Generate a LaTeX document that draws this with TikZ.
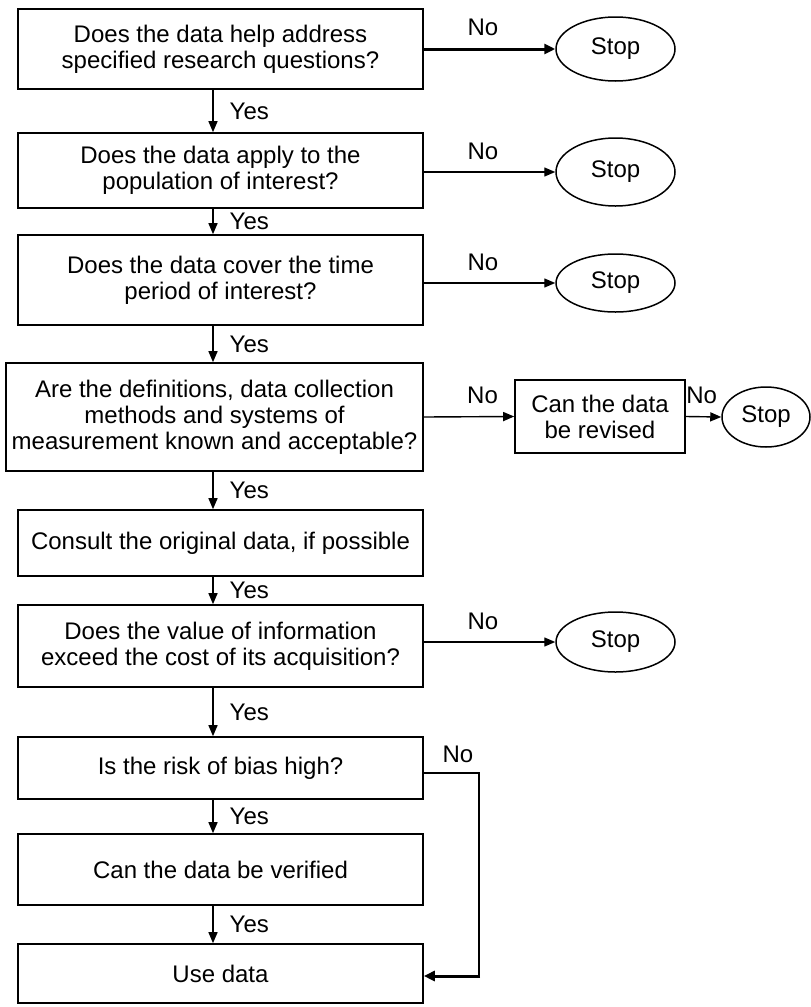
\documentclass[tikz,border=0pt]{standalone}
\usepackage{fontspec}
\setmainfont{Liberation Sans}
\usetikzlibrary{shapes.geometric,arrows.meta}
\begin{document}
\begin{tikzpicture}[x=1pt,y=-1pt,
  every node/.style={font=\fontsize{24}{26}\selectfont},
  box/.style={draw,line width=1.6pt,rectangle,align=center,inner sep=0pt},
  stopnode/.style={draw,line width=1.5pt,ellipse,inner sep=0pt},
  arr/.style={line width=1.4pt,-{Triangle[length=11pt,width=9pt]}},
  thickarr/.style={line width=3pt,-{Triangle[length=11pt,width=10pt]}},
  lbl/.style={inner sep=0pt}
]
\useasboundingbox (0,0) rectangle (811,1007);
% main boxes
\node[box,minimum width=405pt,minimum height=80pt] (b1) at (220.5,49) {Does the data help address\\specified research questions?};
\node[box,minimum width=405pt,minimum height=75pt] (b2) at (220.5,170.5) {Does the data apply to the\\population of interest?};
\node[box,minimum width=405pt,minimum height=90pt] (b3) at (220.5,280) {Does the data cover the time\\period of interest?};
\node[box,minimum width=417pt,minimum height=108pt] (b4) at (214.5,417) {Are the definitions, data collection\\methods and systems of\\measurement known and acceptable?};
\node[box,minimum width=405pt,minimum height=66pt] (b5) at (220.5,543) {Consult the original data, if possible};
\node[box,minimum width=405pt,minimum height=82pt] (b6) at (220.5,646) {Does the value of information\\exceed the cost of its acquisition?};
\node[box,minimum width=405pt,minimum height=62pt] (b7) at (220.5,768) {Is the risk of bias high?};
\node[box,minimum width=405pt,minimum height=71pt] (b8) at (220.5,869.5) {Can the data be verified};
\node[box,minimum width=405pt,minimum height=59pt] (b9) at (220.5,973.5) {Use data};
\node[box,minimum width=170pt,minimum height=73pt] (rv) at (600,416.5) {Can the data\\be revised};
% stops
\node[stopnode,minimum width=119pt,minimum height=64pt] (s1) at (615.5,49) {Stop};
\node[stopnode,minimum width=119pt,minimum height=68pt] (s2) at (615.5,172) {Stop};
\node[stopnode,minimum width=119pt,minimum height=58pt] (s3) at (615.5,283) {Stop};
\node[stopnode,minimum width=88pt,minimum height=60pt] (s4) at (766,417) {Stop};
\node[stopnode,minimum width=119pt,minimum height=60pt] (s5) at (615.5,642) {Stop};
% yes arrows
\coordinate (yx) at (213,0);
\foreach \a/\b in {b1/b2,b2/b3,b3/b4,b4/b5,b5/b6,b6/b7,b7/b8,b8/b9}{
  \draw[arr] (\a.south -| yx) -- (\b.north -| yx)
    node[lbl,midway,right=16pt] {Yes};
}
% no arrows
\draw[thickarr] (b1.east) -- (s1.west) node[lbl,pos=0.45,above=12pt] {No};
\draw[arr] (b2.east |- s2.west) -- (s2.west) node[lbl,pos=0.45,above=12pt] {No};
\draw[arr] (b3.east |- s3.west) -- (s3.west) node[lbl,pos=0.45,above=12pt] {No};
\draw[arr] (b4.east) -- (rv.west) node[lbl,pos=0.65,above=12pt] {No};
\draw[arr] (rv.east) -- (s4.west) node[lbl,pos=0.45,above=12pt] {No};
\draw[arr] (b6.east |- s5.west) -- (s5.west) node[lbl,pos=0.45,above=12pt] {No};
% bias no loop
\coordinate (c1) at (479,773);
\coordinate (c2) at (479,976);
\draw[line width=1.6pt] (b7.east |- c1) -- (c1) -- (c2);
\node[lbl] at (458,754) {No};
\draw[thickarr] ([xshift=1pt]c2) -- (b9.east |- c2);
\end{tikzpicture}
\end{document}
